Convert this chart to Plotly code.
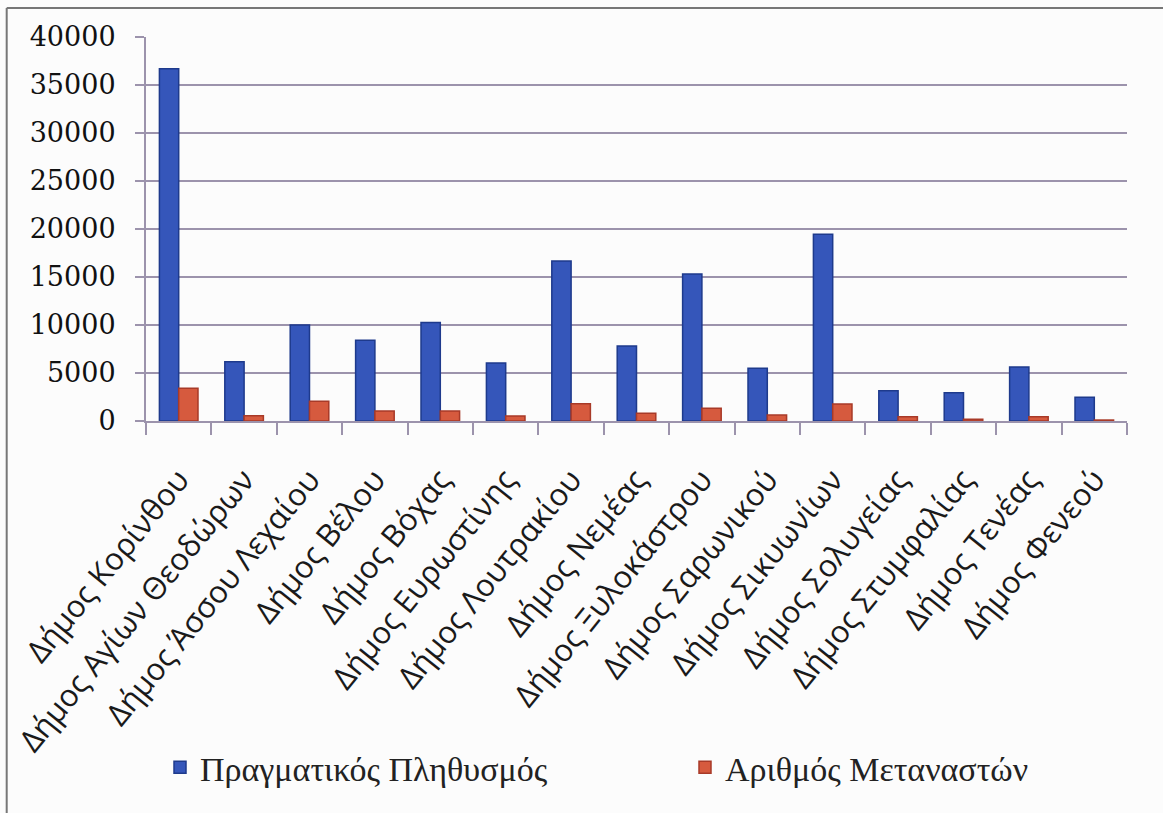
import plotly.graph_objects as go

categories = ["Δήμος Κορίνθου", "Δήμος Αγίων Θεοδώρων", "Δήμος Άσσου Λεχαίου", "Δήμος Βέλου",
              "Δήμος Βόχας", "Δήμος Ευρωστίνης", "Δήμος Λουτρακίου", "Δήμος Νεμέας",
              "Δήμος Ξυλοκάστρου", "Δήμος Σαρωνικού", "Δήμος Σικυωνίων", "Δήμος Σολυγείας",
              "Δήμος Στυμφαλίας", "Δήμος Τενέας", "Δήμος Φενεού"]
population = [36700, 6180, 10000, 8400, 10250, 6040, 16670, 7820, 15320, 5490, 19450, 3160, 2950, 5630, 2470]
migrants = [3400, 550, 2050, 1040, 1040, 520, 1800, 800, 1320, 620, 1770, 450, 180, 450, 100]
y_ticks = [0, 5000, 10000, 15000, 20000, 25000, 30000, 35000, 40000]

fig = go.Figure()
fig.add_trace(go.Bar(x=categories, y=population, name="Πραγματικός Πληθυσμός", legend="legend",
                     marker=dict(color="#3556BA", line=dict(color="#1E3A8C", width=1.5))))
fig.add_trace(go.Bar(x=categories, y=migrants, name="Αριθμός Μεταναστών", legend="legend2",
                     marker=dict(color="#D65A3E", line=dict(color="#A83A28", width=1.5))))

grid = "#9C93AC"
legend_font = dict(family="Liberation Serif", size=34, color="#222222")
fig.update_layout(
    width=1163, height=813,
    margin=dict(l=146, r=36, t=37, b=392, autoexpand=False),
    paper_bgcolor="#FCFCFC", plot_bgcolor="#FCFCFC",
    barmode="group", bargap=0.41, bargroupgap=0,
    showlegend=True,
    legend=dict(orientation="h", x=(160 - 146) / 981, xanchor="left", y=-0.903, yanchor="middle",
                font=legend_font, bgcolor="rgba(0,0,0,0)"),
    legend2=dict(orientation="h", x=(685 - 146) / 981, xanchor="left", y=-0.903, yanchor="middle",
                 font=legend_font, bgcolor="rgba(0,0,0,0)"),
    font=dict(family="Liberation Sans", color="#222222"),
    shapes=[
        dict(type="line", xref="paper", yref="paper", x0=-0.142, x1=1.04, y0=1.0755, y1=1.0755,
             line=dict(color="#777777", width=2)),
        dict(type="line", xref="paper", yref="paper", x0=-0.142, x1=-0.142, y0=1.0755, y1=-1.05,
             line=dict(color="#777777", width=2)),
    ],
)
fig.update_xaxes(
    type="category", tickson="boundaries", ticks="outside", ticklen=12, tickcolor=grid, tickwidth=2,
    showline=True, linecolor=grid, linewidth=2, showgrid=False, automargin=False,
    tickangle=-51, ticklabelstandoff=26,
    tickfont=dict(family="Open Sans", size=31, color="#1A1A1A"),
)
fig.update_yaxes(
    range=[0, 40000], tickvals=y_ticks, ticktext=[str(v) for v in y_ticks],
    showgrid=True, gridcolor=grid, gridwidth=2,
    showline=True, linecolor=grid, linewidth=2, automargin=False,
    ticks="outside", ticklen=9, tickcolor=grid, tickwidth=2,
    ticklabelstandoff=14,
    tickfont=dict(family="DejaVu Serif", size=27, color="#111111"),
    zeroline=False,
)

fig.write_html("out.html")
